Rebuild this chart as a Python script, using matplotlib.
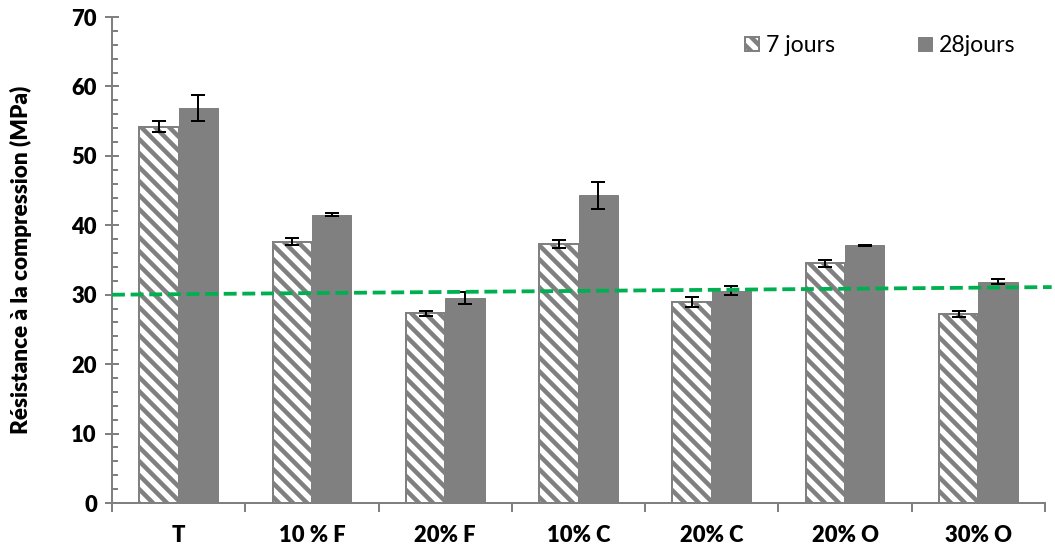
import matplotlib
matplotlib.use('Agg')
import matplotlib.pyplot as plt
import numpy as np

categories = ['T', '10 % F', '20% F', '10% C', '20% C', '20% O', '30% O']
j7_mean = [54.2, 37.6, 27.3, 37.3, 29.0, 34.5, 27.2]
j7_err = [0.8, 0.5, 0.4, 0.6, 0.7, 0.5, 0.4]
j28_mean = [56.9, 41.5, 29.5, 44.3, 30.6, 37.1, 31.9]
j28_err = [1.9, 0.2, 0.9, 1.9, 0.7, 0.1, 0.3]
trend_x = [-0.5, 6.55]
trend_y = [30.0, 31.1]

# dpi chosen so the hatch spacing matches the original stripes
DPI = 84
W, H = 1055, 552


def pt(px):
    return px * 72.0 / DPI


GRAY = '#808080'
BOLD = 'heavy'
plt.rcParams['font.family'] = ['Lato', 'DejaVu Sans']
plt.rcParams['hatch.linewidth'] = pt(4.5)

fig = plt.figure(figsize=(W / DPI, H / DPI), dpi=DPI)
ax = fig.add_axes([112 / W, 49 / H, 933 / W, 486 / H])

x = np.arange(len(categories))
w = 0.295
ax.bar(x - w / 2, j7_mean, w, facecolor='white', edgecolor=GRAY, hatch='\\\\',
       linewidth=pt(2), label='7 jours', zorder=2)
ax.bar(x + w / 2, j28_mean, w, color=GRAY, edgecolor=GRAY, linewidth=pt(1),
       label='28jours', zorder=2)
ax.errorbar(x - w / 2, j7_mean, yerr=j7_err, fmt='none', ecolor='black',
            elinewidth=pt(2), capsize=pt(7), capthick=pt(2), zorder=3)
ax.errorbar(x + w / 2, j28_mean, yerr=j28_err, fmt='none', ecolor='black',
            elinewidth=pt(2), capsize=pt(7), capthick=pt(2), zorder=3)

ax.plot(trend_x, trend_y, color='#00B050', linestyle=(0, (3.4, 1.5)),
        linewidth=pt(3.8), zorder=4, clip_on=False)

ax.set_xlim(-0.5, 6.5)
ax.set_ylim(0, 70)
ax.set_xticks(x)
ax.set_xticklabels(categories, fontweight=BOLD, fontsize=pt(22))
ax.set_xticks(np.arange(-0.5, 7, 1), minor=True)
ax.tick_params(axis='x', which='major', length=0, pad=pt(22))
ax.tick_params(axis='x', which='minor', length=pt(9), width=pt(2), color=GRAY)

ax.set_yticks(np.arange(0, 71, 10))
ax.set_yticks(np.arange(0, 71, 2), minor=True)
ax.tick_params(axis='y', which='major', direction='inout', length=pt(14),
               width=pt(2), color=GRAY, labelsize=pt(22), pad=pt(8))
ax.tick_params(axis='y', which='minor', direction='in', length=pt(6),
               width=pt(2), color=GRAY)
for lab in ax.get_yticklabels():
    lab.set_fontweight(BOLD)

for side in ['top', 'right']:
    ax.spines[side].set_visible(False)
for side in ['left', 'bottom']:
    ax.spines[side].set_color(GRAY)
    ax.spines[side].set_linewidth(pt(2))

ax.set_ylabel('Résistance à la compression (MPa)', fontsize=pt(22.5),
              fontweight=BOLD)
ax.yaxis.set_label_coords(-80 / 933, 0.5)

ax.legend(loc='upper right', bbox_to_anchor=(0.99, 1.005), ncol=2, frameon=False,
          fontsize=pt(23), handlelength=0.6, handleheight=0.6, handletextpad=0.3,
          columnspacing=3.6)

fig.savefig('out.png', dpi=DPI)
